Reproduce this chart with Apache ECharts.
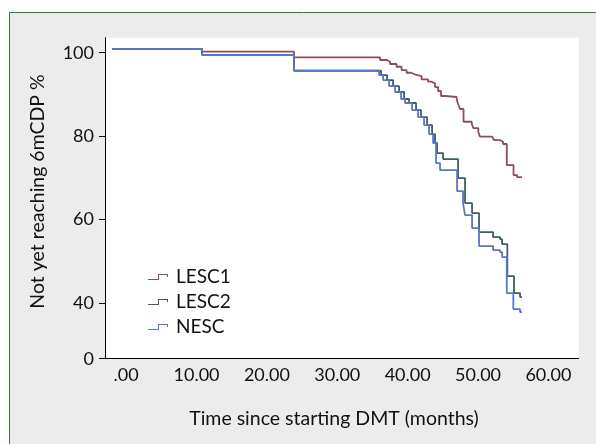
<!DOCTYPE html>
<html>
<head>
<meta charset="utf-8">
<script src="https://cdn.jsdelivr.net/npm/echarts@6/dist/echarts.min.js"></script>
<style>
html,body{margin:0;padding:0;background:#fff;}
#c{width:596px;height:444px;}
</style>
</head>
<body>
<div id="c"></div>
<script>
// ---- data ----
var seriesNames = ['LESC1', 'LESC2', 'NESC'];

var lesc1Time = [-2.0, 10.8, 23.86, 36.08, 37.07, 37.5, 38.42, 39.13, 39.84, 40.48, 41.05, 41.97, 42.9, 43.39, 43.89, 44.32, 44.74, 45.31, 46.97, 47.16, 47.44, 47.94, 49.11, 49.33, 50.04, 50.28, 51.99, 52.27, 53.12, 53.55, 54.08, 55.04, 55.54, 56.25];
var lesc1Pct  = [100.9, 100.24, 98.9, 98.25, 97.84, 97.29, 96.64, 95.85, 95.2, 94.77, 94.41, 93.62, 93.05, 92.66, 91.77, 90.82, 89.62, 89.38, 88.82, 87.7, 86.5, 83.45, 82.9, 81.94, 80.98, 79.86, 79.66, 79.06, 78.66, 78.11, 73.07, 70.67, 70.19, 70.19];

var lesc2Time = [-2.0, 10.8, 23.86, 36.22, 37.07, 37.93, 38.78, 39.49, 40.2, 41.19, 41.9, 42.76, 43.47, 43.89, 44.18, 45.03, 47.16, 48.15, 49.15, 50.14, 52.13, 53.12, 53.41, 54.16, 55.11, 55.97, 56.25];
var lesc2Pct  = [100.9, 99.45, 95.68, 94.65, 93.45, 92.01, 90.58, 88.9, 87.94, 86.26, 84.58, 82.66, 80.5, 78.35, 75.95, 74.5, 69.95, 63.95, 61.56, 57.0, 55.8, 55.32, 54.12, 46.45, 42.37, 41.41, 41.41];

var nescTime = [-2.0, 10.8, 23.86, 35.94, 36.51, 37.36, 38.21, 39.06, 39.63, 40.63, 41.48, 42.33, 43.04, 43.61, 44.03, 44.6, 47.02, 47.87, 48.15, 49.15, 50.14, 52.13, 53.12, 53.41, 54.08, 55.01, 55.97, 56.25];
var nescPct  = [100.9, 99.45, 95.68, 94.65, 93.45, 92.01, 90.58, 88.9, 87.94, 86.26, 84.58, 82.66, 80.5, 78.35, 73.55, 71.87, 66.84, 63.95, 61.08, 57.96, 53.65, 52.69, 52.21, 51.01, 42.37, 38.54, 37.82, 37.82];

var xTickValues = [0, 10, 20, 30, 40, 50, 60];
var xTickLabels = ['.00', '10.00', '20.00', '30.00', '40.00', '50.00', '60.00'];
var yTickValues = [26.64, 40, 60, 80, 100];
var yTickLabels = ['0', '40', '60', '80', '100'];

var xTitle = 'Time since starting DMT (months)';
var yTitle = 'Not yet reaching 6mCDP %';

// ---- chart ----
function pairs(t, p) { return t.map(function (v, i) { return [v, p[i]]; }); }
function lookup(vals, labels, v) {
  for (var i = 0; i < vals.length; i++) { if (Math.abs(vals[i] - v) < 1e-6) return labels[i]; }
  return '';
}
var FONT = 'Lato';
var colors = ['#8c4d5d', '#3b5f62', '#5b76c8'];
var legendIcon = 'path://M0,5 L10,5 L10,0 L20,0 L20,3 L19,3 L19,1 L11,1 L11,6 L0,6 Z';

var chart = echarts.init(document.getElementById('c'), null, {renderer: 'canvas'});
chart.setOption({
  animation: false,
  backgroundColor: '#ffffff',
  textStyle: {fontFamily: FONT},
  graphic: [
    {type: 'rect', z: -10, shape: {x: 9.5, y: 12.5, width: 620, height: 460},
     style: {fill: '#ececec', stroke: '#2e7d32', lineWidth: 1}},
    {type: 'text', x: 334, y: 419, z: 10,
     style: {text: xTitle, fontFamily: FONT, fontSize: 19.5, fill: '#111', textAlign: 'center', textVerticalAlign: 'middle'}},
    {type: 'text', x: 38, y: 191.5, rotation: Math.PI / 2, z: 10,
     style: {text: yTitle, fontFamily: FONT, fontSize: 19.5, fill: '#111', textAlign: 'center', textVerticalAlign: 'middle'}}
  ],
  grid: {left: 105, right: 17.3, top: 37.7, bottom: 85.3, show: true, backgroundColor: '#ffffff', borderWidth: 0, containLabel: false, outerBoundsMode: 'none'},
  legend: {
    orient: 'vertical', left: 143, top: 262.5, itemWidth: 20, itemHeight: 6, itemGap: 6,
    icon: legendIcon,
    textStyle: {fontFamily: FONT, fontSize: 19, color: '#111', lineHeight: 19, padding: [0, 0, 0, 3]},
    data: seriesNames
  },
  xAxis: {
    type: 'value', min: -3, max: 64.3,
    axisLine: {show: true, onZero: false, lineStyle: {color: '#000', width: 1}},
    axisTick: {show: false},
    splitLine: {show: false},
    axisLabel: {customValues: xTickValues, margin: 7, fontFamily: FONT, fontSize: 18, color: '#111',
      formatter: function (v) { return lookup(xTickValues, xTickLabels, v); }}
  },
  yAxis: {
    type: 'value', min: 26.64, max: 103.6,
    axisLine: {show: true, onZero: false, lineStyle: {color: '#000', width: 1}},
    axisTick: {show: true, customValues: yTickValues, length: 6, lineStyle: {color: '#000'}},
    splitLine: {show: false},
    axisLabel: {customValues: yTickValues, margin: 11, fontFamily: FONT, fontSize: 18, color: '#111',
      formatter: function (v) { return lookup(yTickValues, yTickLabels, v); }}
  },
  series: [
    {name: 'LESC1', type: 'line', step: 'end', symbol: 'none', data: pairs(lesc1Time, lesc1Pct),
     color: colors[0], lineStyle: {width: 1.8, color: colors[0]}, z: 3},
    {name: 'LESC2', type: 'line', step: 'end', symbol: 'none', data: pairs(lesc2Time, lesc2Pct),
     color: colors[1], lineStyle: {width: 1.8, color: colors[1]}, z: 3},
    {name: 'NESC', type: 'line', step: 'end', symbol: 'none', data: pairs(nescTime, nescPct),
     color: colors[2], lineStyle: {width: 1.8, color: colors[2]}, z: 4}
  ]
});
</script>
</body>
</html>
